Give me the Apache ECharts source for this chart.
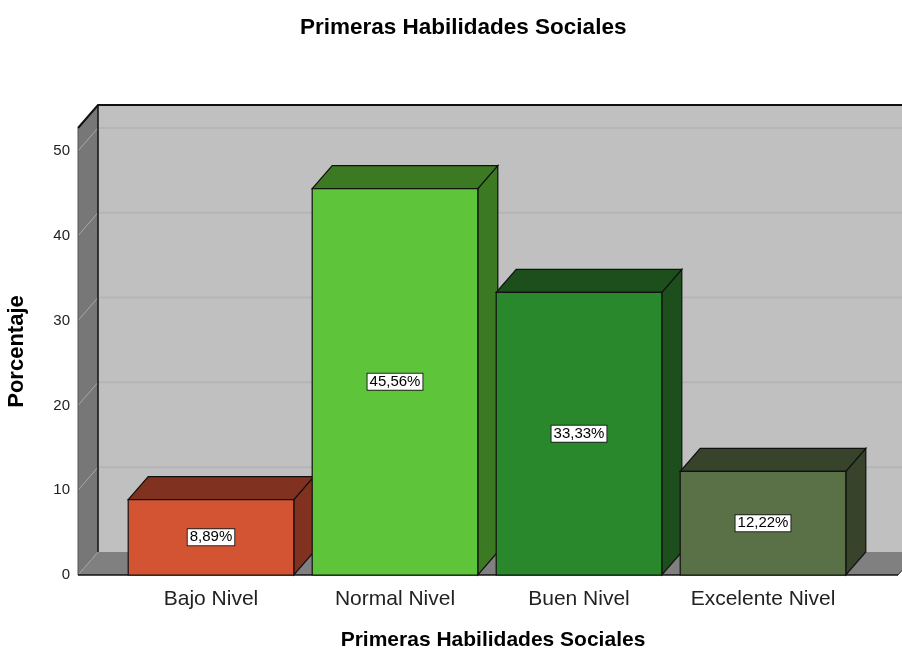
<!DOCTYPE html>
<html>
<head>
<meta charset="utf-8">
<script src="https://cdn.jsdelivr.net/npm/echarts@6/dist/echarts.min.js"></script>
<style>
  html, body { margin: 0; padding: 0; background: #fff; }
  #main { width: 902px; height: 653px; }
</style>
</head>
<body>
<div id="main"></div>
<script>
// datos del grafico
var categorias = ['Bajo Nivel', 'Normal Nivel', 'Buen Nivel', 'Excelente Nivel'];
var porcentajes = [8.89, 45.56, 33.33, 12.22];
var ticksY = [0, 10, 20, 30, 40, 50];

// colores: cara frontal y cara superior/lateral
var colorFrente = ['#d35433', '#5ec43a', '#28882b', '#5a7047'];
var colorSombra = ['#80311f', '#3b7a23', '#1c4f1c', '#37432b'];

var FONT = 'Liberation Sans, Arial, sans-serif';
var DX = 20, DY = -23;      // profundidad 3D
var PAD_L = 41, PAD_R = 43; // paredes fuera de las bandas de categoria

var myChart = echarts.init(document.getElementById('main'));

function fmt(v) {
  return v.toFixed(2).replace('.', ',') + '%';
}

// paredes, piso y lineas de cuadricula
function renderParedes(params, api) {
  var cs = params.coordSys;
  var xl = cs.x - PAD_L;
  var xr = cs.x + cs.width + PAD_R;
  var yTop = cs.y;
  var yBot = cs.y + cs.height;
  var children = [];
  // pared del fondo
  children.push({
    type: 'polygon',
    shape: { points: [[xl + DX, yTop + DY], [xr + DX, yTop + DY], [xr + DX, yBot + DY], [xl + DX, yBot + DY]] },
    style: { fill: '#c0c0c0', stroke: null }
  });
  // pared izquierda
  children.push({
    type: 'polygon',
    shape: { points: [[xl, yTop], [xl + DX, yTop + DY], [xl + DX, yBot + DY], [xl, yBot]] },
    style: { fill: '#777777', stroke: null }
  });
  // piso
  children.push({
    type: 'polygon',
    shape: { points: [[xl, yBot], [xl + DX, yBot + DY], [xr + DX, yBot + DY], [xr, yBot]] },
    style: { fill: '#808080', stroke: null }
  });
  // cuadricula
  ticksY.forEach(function (t) {
    if (t === 0) return;
    var y = api.coord([0, t])[1];
    children.push({
      type: 'line',
      shape: { x1: xl + DX, y1: y + DY, x2: xr + DX + 20, y2: y + DY },
      style: { stroke: '#b5b5b5', lineWidth: 2 }
    });
    children.push({
      type: 'line',
      shape: { x1: xl, y1: y, x2: xl + DX, y2: y + DY },
      style: { stroke: '#a8a8a8', lineWidth: 1 }
    });
  });
  // linea del piso en el fondo (diagonal)
  children.push({
    type: 'line',
    shape: { x1: xl, y1: yBot, x2: xl + DX, y2: yBot + DY },
    style: { stroke: '#a0a0a0', lineWidth: 1 }
  });
  // bordes
  children.push({
    type: 'polyline',
    shape: { points: [[xl, yTop], [xl + DX, yTop + DY], [xr + DX + 20, yTop + DY]] },
    style: { stroke: '#111', lineWidth: 2, fill: null }
  });
  children.push({
    type: 'line',
    shape: { x1: xl + DX, y1: yTop + DY, x2: xl + DX, y2: yBot + DY },
    style: { stroke: '#111', lineWidth: 1.5 }
  });
  children.push({
    type: 'line',
    shape: { x1: xl, y1: yTop, x2: xl, y2: yBot },
    style: { stroke: '#555', lineWidth: 1 }
  });
  children.push({
    type: 'line',
    shape: { x1: xl, y1: yBot, x2: xr, y2: yBot },
    style: { stroke: '#111', lineWidth: 1.5 }
  });
  children.push({
    type: 'line',
    shape: { x1: xr, y1: yBot, x2: xr + DX, y2: yBot + DY },
    style: { stroke: '#333', lineWidth: 1 }
  });
  return { type: 'group', children: children };
}

// barras 3D
function renderBarra(params, api) {
  var i = api.value(0);
  var v = api.value(1);
  var p = api.coord([i, v]);
  var p0 = api.coord([i, 0]);
  var w = api.size([1, 0])[0] * 0.9;
  var x0 = p[0] - w / 2, x1 = x0 + w;
  var yt = p[1], yb = p0[1];
  var idx = params.dataIndex;
  var borde = { stroke: '#111', lineWidth: 1.2 };
  return {
    type: 'group',
    children: [
      {
        type: 'polygon',
        shape: { points: [[x1, yt], [x1 + DX, yt + DY], [x1 + DX, yb + DY], [x1, yb]] },
        style: Object.assign({ fill: colorSombra[idx] }, borde)
      },
      {
        type: 'polygon',
        shape: { points: [[x0, yt], [x0 + DX, yt + DY], [x1 + DX, yt + DY], [x1, yt]] },
        style: Object.assign({ fill: colorSombra[idx] }, borde)
      },
      {
        type: 'rect',
        shape: { x: x0, y: yt, width: w, height: yb - yt },
        style: Object.assign({ fill: colorFrente[idx] }, borde)
      },
      {
        type: 'text',
        x: (x0 + x1) / 2,
        y: (yt + yb) / 2,
        style: {
          text: fmt(v),
          align: 'center',
          verticalAlign: 'middle',
          fontSize: 15,
          fontFamily: FONT,
          fill: '#000',
          backgroundColor: '#fff',
          borderColor: '#222',
          borderWidth: 1,
          padding: [1, 2, 0, 2]
        }
      }
    ]
  };
}

var option = {
  animation: false,
  backgroundColor: '#fff',
  title: {
    text: 'Primeras Habilidades Sociales',
    left: 295,
    top: 11,
    textStyle: { fontSize: 22.5, fontWeight: 'bold', fontFamily: FONT, color: '#000' }
  },
  grid: { left: 119, right: 47, top: 128, bottom: 78, outerBoundsMode: 'none' },
  xAxis: {
    type: 'category',
    data: categorias,
    axisLine: { show: false },
    axisTick: { show: false },
    axisLabel: { interval: 0, fontSize: 21, fontFamily: FONT, color: '#222', margin: 14 },
    name: 'Primeras Habilidades Sociales',
    nameLocation: 'middle',
    nameGap: 55,
    nameTextStyle: { fontSize: 21, fontWeight: 'bold', fontFamily: FONT, color: '#000', padding: [0, 0, 0, 12] }
  },
  yAxis: {
    type: 'value',
    min: 0,
    max: 52.7,
    interval: 10,
    splitLine: { show: false },
    axisLine: { show: false },
    axisTick: { show: false },
    axisLabel: { fontSize: 15, fontFamily: FONT, color: '#222', margin: 49, showMaxLabel: false },
    name: 'Porcentaje',
    nameLocation: 'middle',
    nameGap: 91,
    nameTextStyle: { fontSize: 22, fontWeight: 'bold', fontFamily: FONT, color: '#000' }
  },
  series: [
    {
      type: 'custom',
      renderItem: renderParedes,
      data: [[0, 0]],
      z: 1,
      silent: true
    },
    {
      type: 'custom',
      renderItem: renderBarra,
      data: porcentajes.map(function (v, i) { return [i, v]; }),
      z: 5
    }
  ]
};

myChart.setOption(option);
</script>
</body>
</html>
